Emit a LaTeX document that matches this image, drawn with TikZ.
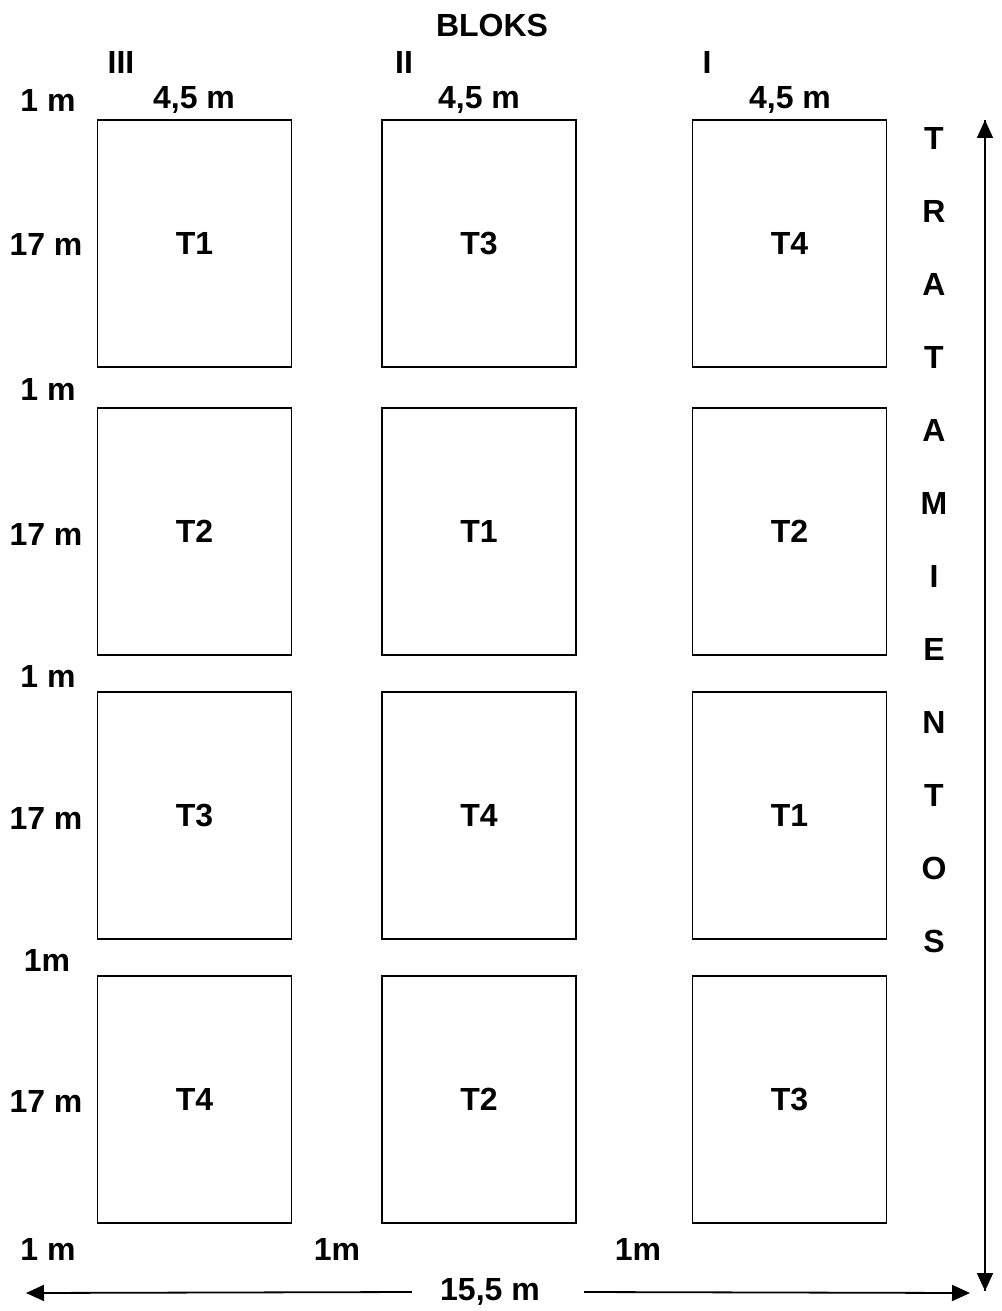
\documentclass[tikz,border=0pt]{standalone}
\usepackage{fontspec}
\setmainfont{Liberation Sans}
\usetikzlibrary{arrows.meta}
\begin{document}
\begin{tikzpicture}[x=1pt,y=-1pt,
  lbl/.style={font=\fontsize{32}{34}\selectfont\bfseries, inner sep=0pt},
  plot/.style={draw, line width=1.8pt, minimum width=194pt, minimum height=247pt, inner sep=0pt, font=\fontsize{32}{34}\selectfont\bfseries},
  dim/.style={line width=1.8pt},
  tip/.style={-{Triangle[length=18pt,width=16pt]}}]
\useasboundingbox (0,0) rectangle (1001,1311);
% header
\node[lbl] (bloks) at (492,25) {BLOKS};
\node[lbl] (b3) at (121,62) {III};
\node[lbl] (b2) at (404,62) {II};
\node[lbl] (b1) at (707,62) {I};
\node[lbl] (m0) at (48,100) {1 m};
\node[lbl] (w3) at (194,100) {4,5 m};
\node[lbl] (w2) at (479,100) {4,5 m};
\node[lbl] (w1) at (790,100) {4,5 m};
% plots: row 1
\node[plot] (p11) at (194.5,243.5) {T1};
\node[plot] (p12) at (479,243.5) {T3};
\node[plot] (p13) at (789.5,243.5) {T4};
% row 2
\node[plot] (p21) at (194.5,531.5) {T2};
\node[plot] (p22) at (479,531.5) {T1};
\node[plot] (p23) at (789.5,531.5) {T2};
% row 3
\node[plot] (p31) at (194.5,815.5) {T3};
\node[plot] (p32) at (479,815.5) {T4};
\node[plot] (p33) at (789.5,815.5) {T1};
% row 4
\node[plot] (p41) at (194.5,1099.5) {T4};
\node[plot] (p42) at (479,1099.5) {T2};
\node[plot] (p43) at (789.5,1099.5) {T3};
% left labels
\node[lbl] (h1) at (46,244) {17 m};
\node[lbl] (g1) at (48,389) {1 m};
\node[lbl] (h2) at (46,534) {17 m};
\node[lbl] (g2) at (48,676) {1 m};
\node[lbl] (h3) at (46,818) {17 m};
\node[lbl] (g3) at (47,960) {1m};
\node[lbl] (h4) at (46,1101) {17 m};
\node[lbl] (g4) at (48,1249) {1 m};
\node[lbl] (g5) at (337,1249) {1m};
\node[lbl] (g6) at (638,1249) {1m};
% vertical word
\foreach \ch [count=\i] in {T,R,A,T,A,M,I,E,N,T,O,S}{
  \node[lbl] (v\i) at (934,65+73*\i) {\ch};
}
% dimension arrows
\coordinate (vt) at (985,120);
\coordinate (vb) at (985,1291);
\draw[dim, tip] (vb) -- (vt);
\draw[dim, tip] (vt) -- (vb);
\node[lbl] (total) at (490,1292) {15,5 m};
\coordinate (hl) at (26,1293);
\coordinate (hr) at (970,1293);
\draw[dim, tip] (total.west) ++(-28,0) coordinate (tl) (tl) -- (hl);
\draw[dim, tip] (total.east) ++(44,0) coordinate (tr) (tr) -- (hr);
\end{tikzpicture}
\end{document}
